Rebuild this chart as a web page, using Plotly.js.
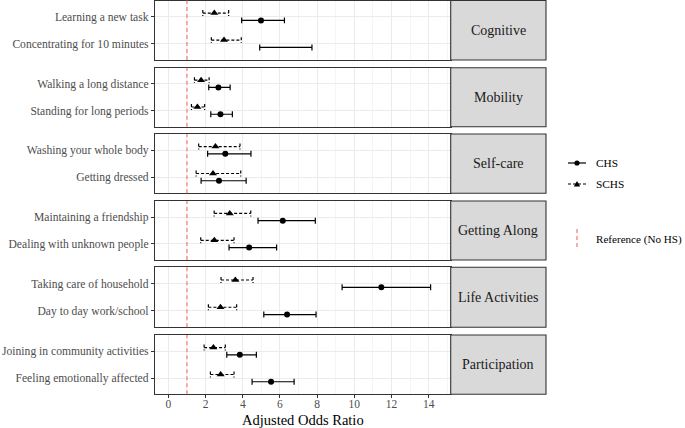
<!DOCTYPE html>
<html><head><meta charset="utf-8">
<script src="https://cdn.plot.ly/plotly-3.0.1.min.js"></script>
<style>html,body{margin:0;padding:0;background:#fff}</style>
</head><body><div id="chart" style="width:685px;height:428px"></div>
<script>
// ---- data ----
const domains = ["Cognitive","Mobility","Self-care","Getting Along","Life Activities","Participation"];
const items = [
  ["Learning a new task","Concentrating for 10 minutes"],
  ["Walking a long distance","Standing for long periods"],
  ["Washing your whole body","Getting dressed"],
  ["Maintaining a friendship","Dealing with unknown people"],
  ["Taking care of household","Day to day work/school"],
  ["Joining in community activities","Feeling emotionally affected"]
];
const chsEst = [[4.98,null],[2.69,2.80],[3.06,2.72],[6.15,4.34],[11.45,6.38],[3.84,5.52]];
const chsLo  = [[3.94,4.91],[2.17,2.28],[2.11,1.76],[4.82,3.26],[9.34,5.13],[3.14,4.50]];
const chsHi  = [[6.24,7.72],[3.32,3.44],[4.44,4.18],[7.90,5.82],[14.10,7.94],[4.73,6.76]];
const schsEst= [[2.47,2.99],[1.76,1.56],[2.53,2.40],[3.30,2.47],[3.60,2.80],[2.42,2.81]];
const schsLo = [[1.85,2.31],[1.40,1.24],[1.63,1.49],[2.46,1.74],[2.83,2.15],[1.92,2.26]];
const schsHi = [[3.24,3.92],[2.19,1.95],[3.85,3.89],[4.43,3.53],[4.55,3.67],[3.06,3.53]];
const REF = 1;
const xTicks = [0,2,4,6,8,10,12,14];
const seriesNames = ["CHS","SCHS"];

// ---- layout helpers ----
const W = 685, H = 428;
const panelPx = [[0.5,60],[67.7,126.7],[134,193.3],[201,260],[267.3,327.3],[335,394.3]];
const xL = 155/W, xR = 450.7/W, sR = 546/W;
const font = "Liberation Serif, Times New Roman, serif";
const DODGE = 0.135, CAP = 0.11;

const traces = [];
const layout = {
  width: W, height: H, margin: {l:0,r:0,t:0,b:0},
  paper_bgcolor: '#fff', plot_bgcolor: '#fff',
  showlegend: false, font: {family: font, color: '#4D4D4D', size: 11.5},
  shapes: [], annotations: []
};

function errTrace(lo, hi, ys, dash, xa, ya, name) {
  const X = [], Y = [];
  for (let i = 0; i < lo.length; i++) {
    const y = ys[i];
    X.push(lo[i], hi[i], null, lo[i], lo[i], null, hi[i], hi[i], null);
    Y.push(y, y, null, y - CAP, y + CAP, null, y - CAP, y + CAP, null);
  }
  return {type:'scatter', mode:'lines', x:X, y:Y, xaxis:xa, yaxis:ya, name:name,
    line:{color:'#000', width:1.2, dash:dash}, hoverinfo:'skip'};
}

for (let p = 0; p < domains.length; p++) {
  const n = p + 1;
  const xa = 'x' + (n === 1 ? '' : n), ya = 'y' + (n === 1 ? '' : n);
  const xk = 'xaxis' + (n === 1 ? '' : n), yk = 'yaxis' + (n === 1 ? '' : n);
  const rows = items[p].map((_, i) => i + 1);
  const ySchs = rows.map(r => r - DODGE), yChs = rows.map(r => r + DODGE);
  const d0 = 1 - panelPx[p][1] / H, d1 = 1 - panelPx[p][0] / H;
  const last = p === domains.length - 1;

  layout[xk] = {
    domain: [xL, xR], anchor: ya, range: [-0.72, 15.18],
    tickvals: xTicks, ticktext: xTicks.map(String), showticklabels: last,
    ticks: last ? 'outside' : '', ticklen: 3, tickcolor: '#333', tickwidth: 1,
    ticklabelstandoff: -4,
    showgrid: true, gridcolor: '#EBEBEB', gridwidth: 1,
    minor: {dtick: 1, tick0: 1, showgrid: true, gridcolor: '#F2F2F2', gridwidth: 0.8},
    showline: true, mirror: true, linecolor: '#333', linewidth: 1.1, zeroline: false,
    tickfont: {family: font, size: 11.5, color: '#4D4D4D'}, fixedrange: true
  };
  if (n !== 1) layout[xk].matches = 'x';
  if (last) layout[xk].title = {text: 'Adjusted Odds Ratio', font: {family: font, size: 14.5, color: '#000'}, standoff: 6};

  layout[yk] = {
    domain: [d0, d1], anchor: xa, range: [items[p].length + 0.6, 0.4],
    tickvals: rows, ticktext: items[p], ticks: 'outside', ticklen: 3, tickcolor: '#333',
    showgrid: true, gridcolor: '#EBEBEB', gridwidth: 1, zeroline: false,
    showline: true, mirror: true, linecolor: '#333', linewidth: 1.1,
    tickfont: {family: font, size: 11.6, color: '#4D4D4D'}, fixedrange: true
  };

  // reference line
  layout.shapes.push({type:'line', xref:xa, yref: ya + ' domain', x0:REF, x1:REF, y0:0, y1:1,
    line:{color:'#F8766D', width:1.2, dash:'4px,3px'}, layer:'above'});
  // strip
  layout.shapes.push({type:'rect', xref:'paper', yref:'paper', x0:xR, x1:sR, y0:d0, y1:d1,
    fillcolor:'#D9D9D9', line:{color:'#333', width:1.1}});
  layout.annotations.push({xref:'paper', yref:'paper', x:(xR+sR)/2, y:(d0+d1)/2, text:domains[p],
    showarrow:false, font:{family:font, size:14, color:'#1A1A1A'}, xanchor:'center', yanchor:'middle'});

  traces.push(errTrace(schsLo[p], schsHi[p], ySchs, '3px,2px', xa, ya, seriesNames[1]));
  traces.push(errTrace(chsLo[p], chsHi[p], yChs, 'solid', xa, ya, seriesNames[0]));
  traces.push({type:'scatter', mode:'markers', x:schsEst[p], y:ySchs, xaxis:xa, yaxis:ya,
    marker:{symbol:'triangle-up', size:7, color:'#000'}, name:seriesNames[1]});
  traces.push({type:'scatter', mode:'markers', x:chsEst[p], y:yChs, xaxis:xa, yaxis:ya,
    marker:{symbol:'circle', size:6, color:'#000'}, name:seriesNames[0]});
}

// ---- manual legend ----
const px = v => v / W, py = v => 1 - v / H;
const keyX0 = 568, keyX1 = 586, keyC = 577, txtX = 594;
const legendRows = [163, 184];
legendRows.forEach((yy, i) => {
  layout.shapes.push({type:'line', xref:'paper', yref:'paper', x0:px(keyX0), x1:px(keyX1), y0:py(yy), y1:py(yy),
    line:{color:'#000', width:1.2, dash: i === 0 ? 'solid' : '3px,2px'}});
  if (i === 0) {
    layout.shapes.push({type:'circle', xref:'paper', yref:'paper', x0:px(keyC-2.6), x1:px(keyC+2.6),
      y0:py(yy+2.6), y1:py(yy-2.6), fillcolor:'#000', line:{color:'#000', width:0}});
  } else {
    layout.shapes.push({type:'path', xref:'paper', yref:'paper',
      path:`M ${px(keyC-3.2)} ${py(yy+2.6)} L ${px(keyC+3.2)} ${py(yy+2.6)} L ${px(keyC)} ${py(yy-3)} Z`,
      fillcolor:'#000', line:{color:'#000', width:0}});
  }
  layout.annotations.push({xref:'paper', yref:'paper', x:px(txtX), y:py(yy), text:seriesNames[i],
    showarrow:false, xanchor:'left', yanchor:'middle', font:{family:font, size:11.3, color:'#000'}});
});
layout.shapes.push({type:'line', xref:'paper', yref:'paper', x0:px(keyC), x1:px(keyC), y0:py(229), y1:py(250),
  line:{color:'#F8766D', width:1.2, dash:'4px,3px'}});
layout.annotations.push({xref:'paper', yref:'paper', x:px(txtX), y:py(239), text:'Reference (No HS)',
  showarrow:false, xanchor:'left', yanchor:'middle', font:{family:font, size:11.1, color:'#000'}});

Plotly.newPlot('chart', traces, layout, {staticPlot:true, displayModeBar:false});
</script></body></html>
